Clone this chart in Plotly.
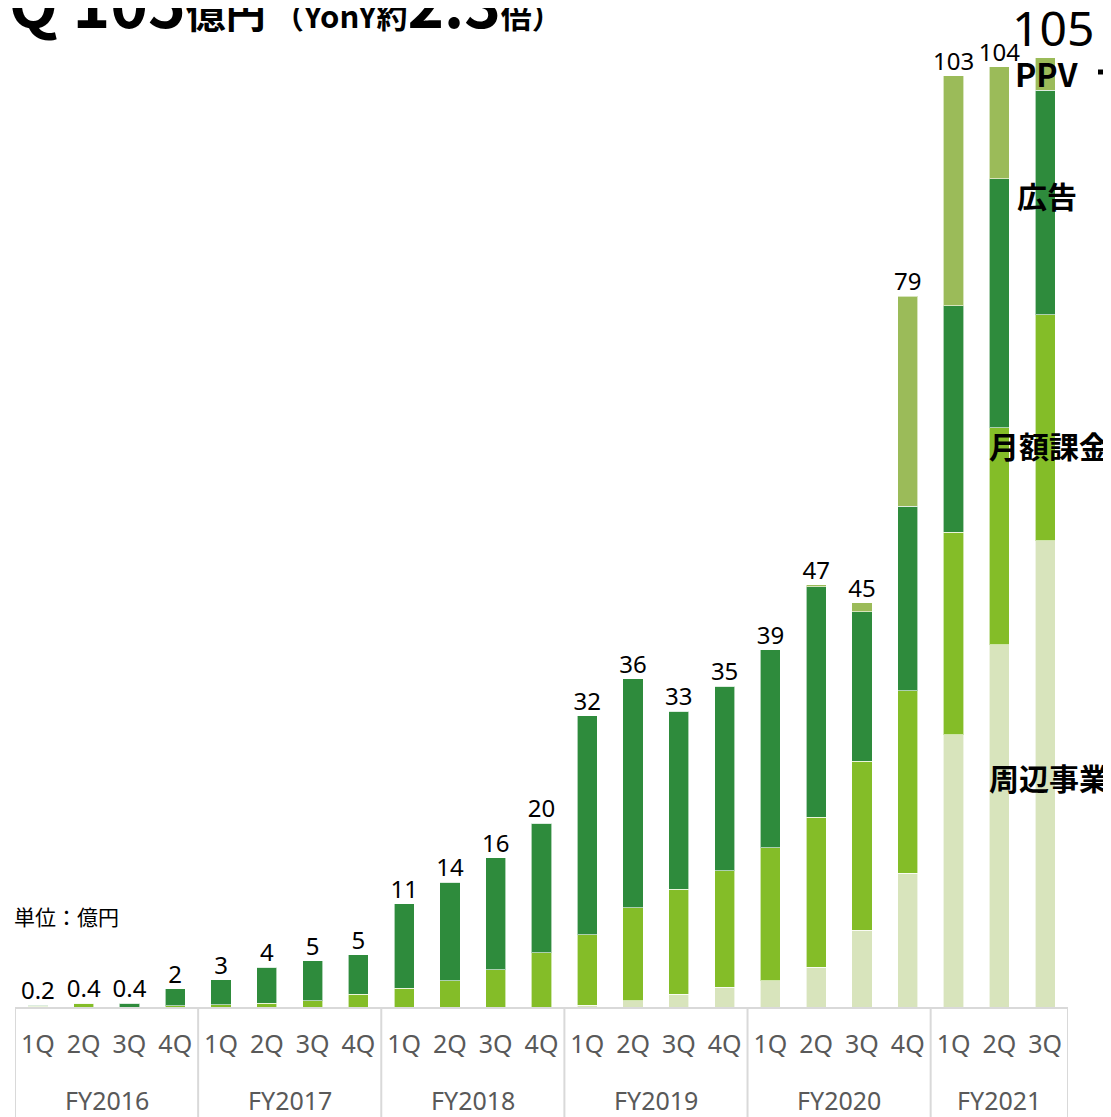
import numpy as np
import plotly.graph_objects as go

years = ["FY2016"] * 4 + ["FY2017"] * 4 + ["FY2018"] * 4 + ["FY2019"] * 4 + ["FY2020"] * 4 + ["FY2021"] * 3
quarters = ["1Q", "2Q", "3Q", "4Q"] * 5 + ["1Q", "2Q", "3Q"]

peripheral = [0, 0, 0, 0,
              0, 0, 0, 0,
              0, 0, 0, 0,
              0.2, 0.7, 1.4, 2.2,
              2.9, 4.4, 8.5, 14.8,
              30.1, 40.1, 51.6]
monthly = [0.1, 0.4, 0, 0.15,
           0.25, 0.4, 0.7, 1.4,
           2.1, 2.9, 4.1, 6.0,
           7.8, 10.3, 11.6, 12.9,
           14.7, 16.6, 18.7, 20.2,
           22.4, 24.0, 25.0]
ads = [0.1, 0, 0.4, 1.85,
       2.75, 4.0, 4.4, 4.4,
       9.3, 10.9, 12.4, 14.3,
       24.2, 25.3, 19.7, 20.4,
       21.9, 25.5, 16.5, 20.4,
       25.1, 27.5, 24.8]
ppv = [0, 0, 0, 0,
       0, 0, 0, 0,
       0, 0, 0, 0,
       0, 0, 0, 0,
       0, 0.2, 1.0, 23.2,
       25.4, 12.4, 3.6]
total_labels = ["0.2", "0.4", "0.4", "2", "3", "4", "5", "5", "11", "14", "16", "20",
                "32", "36", "33", "35", "39", "47", "45", "79", "103", "104", "105"]

series_names = ["周辺事業", "月額課金", "広告", "PPV"]
colors = ["#d8e4bc", "#84bd28", "#2e8b3c", "#9bbb59"]

cat_ids = [f"{y} {q}" for y, q in zip(years, quarters)]
totals = np.array(peripheral) + np.array(monthly) + np.array(ads) + np.array(ppv)

# page offset compensation (page body margin), plot area in page pixels: x 15..1068, y 8..1007
PLOT_H = 999


def px_x(px):
    return (px - 15) / 1053


def px_y(py):
    return (1007 - py) / PLOT_H


fig = go.Figure()
for name, vals, col in zip(series_names, [peripheral, monthly, ads, ppv], colors):
    fig.add_trace(go.Bar(
        x=cat_ids, y=vals, name=name,
        marker=dict(color=col, line=dict(color="rgba(255,255,255,0.6)", width=1)),
        hoverinfo="skip"))

fig.add_trace(go.Scatter(
    x=cat_ids[:-1], y=totals[:-1], mode="text", text=total_labels[:-1], textposition="top center",
    textfont=dict(family="Noto Sans", size=24, color="#000000"),
    hoverinfo="skip", showlegend=False, cliponaxis=False))
fig.add_annotation(xref="x", yref="y", x=cat_ids[-1], y=totals[-1], xanchor="center", yanchor="bottom",
                   xshift=8, yshift=-4, showarrow=False, text=total_labels[-1],
                   font=dict(family="Noto Sans", size=48, color="#000000"))

dividers = [-0.5]
unique_years = list(dict.fromkeys(years))
for yr in unique_years:
    idx = [i for i, v in enumerate(years) if v == yr]
    center = (idx[0] + idx[-1]) / 2
    fig.add_annotation(xref="x", yref="paper", x=center, y=px_y(1100), xanchor="center",
                       yanchor="middle", showarrow=False, text=yr,
                       font=dict(family="Noto Sans", size=25, color="#595959"))
    dividers.append(idx[-1] + 0.5)
for d in dividers:
    fig.add_shape(type="line", xref="x", yref="paper", x0=d, x1=d, y0=0, y1=-0.13,
                  line=dict(color="#d9d9d9", width=2))

bold = "Noto Sans CJK JP"
fig.add_annotation(
    xref="paper", yref="paper", x=px_x(-31), y=1, xanchor="left", yanchor="top", yshift=56,
    showarrow=False, align="left",
    text="<b><span style='font-size:64px'>3Q 105</span><span style='font-size:40px'>億円</span>"
         "<span style='font-size:31px'> （YonY約</span><span style='font-size:62px'>2.3</span>"
         "<span style='font-size:31px'>倍）</span></b>",
    font=dict(family=bold, size=30, color="#000000"))

side = [("<b>PPV</b>", 1013, 73, 32), ("<b>広告</b>", 1015, 195, 30),
        ("<b>月額課金</b>", 987, 445, 30), ("<b>周辺事業</b>", 987, 777, 30)]
for txt, px, py, fs in side:
    fig.add_annotation(xref="paper", yref="paper", x=px_x(px), y=px_y(py),
                       xanchor="left", yanchor="middle", showarrow=False, text=txt,
                       font=dict(family=bold, size=fs, color="#000000"))
fig.add_shape(type="line", xref="paper", yref="paper", x0=px_x(1098), x1=px_x(1125),
              y0=px_y(72), y1=px_y(72), line=dict(color="#000000", width=5))

fig.add_annotation(xref="paper", yref="paper", x=px_x(12), y=px_y(916),
                   xanchor="left", yanchor="middle", showarrow=False, text="単位：億円",
                   font=dict(family=bold, size=21, color="#000000"))

fig.update_layout(
    width=1111, height=1117, barmode="stack", bargap=0.56,
    margin=dict(l=7, r=51, t=0, b=118),
    plot_bgcolor="white", paper_bgcolor="white", showlegend=False,
    xaxis=dict(type="category", automargin=False, showline=True, linecolor="#d9d9d9", linewidth=2,
               tickvals=cat_ids, ticktext=quarters, ticks="", ticklabelstandoff=14,
               tickfont=dict(family="Noto Sans", size=25, color="#595959"),
               range=[-0.5, len(cat_ids) - 0.5]),
    yaxis=dict(visible=False, range=[0, PLOT_H / 9.04], showgrid=False, zeroline=False, automargin=False),
)

fig.write_html("out.html")
